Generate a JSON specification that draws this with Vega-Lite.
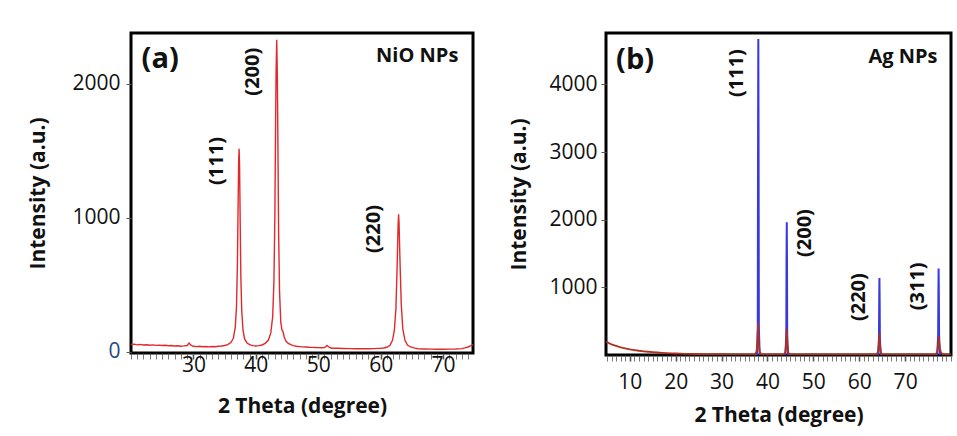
{
  "$schema": "https://vega.github.io/schema/vega-lite/v6.json",
  "autosize": {"type": "none"},
  "padding": {"left": 131, "top": 33, "right": 826, "bottom": 403},
  "background": "white",
  "config": {
    "font": "Open Sans",
    "view": {"stroke": "black", "strokeWidth": 3},
    "axis": {"grid": false, "domain": false, "ticks": true, "labelFont": "Open Sans", "titleFont": "Open Sans", "labelColor": "#111", "titleColor": "#111", "labelFontSize": 21, "titleFontSize": 21, "titleFontWeight": "bold", "labelOverlap": false, "labelFlush": false, "tickColor": "#555"}
  },
  "bounds": "flush",
  "spacing": 133,
  "hconcat": [
    {
      "width": 342,
      "height": 320,
      "layer": [
        {
          "data": {"values": [
            {"t": 20.0, "i": 54}, {"t": 20.5, "i": 56}, {"t": 21.0, "i": 51}, {"t": 21.5, "i": 54}, {"t": 22.0, "i": 50}, {"t": 22.5, "i": 52}, {"t": 23.0, "i": 48}, {"t": 23.5, "i": 51}, {"t": 24.0, "i": 47}, {"t": 24.5, "i": 49}, {"t": 25.0, "i": 46}, {"t": 25.5, "i": 48}, {"t": 26.0, "i": 44}, {"t": 26.5, "i": 46}, {"t": 27.0, "i": 42}, {"t": 27.5, "i": 44}, {"t": 28.0, "i": 41}, {"t": 28.5, "i": 43}, {"t": 29.0, "i": 46}, {"t": 29.3, "i": 64}, {"t": 29.6, "i": 48}, {"t": 30.0, "i": 40}, {"t": 30.5, "i": 38}, {"t": 31.0, "i": 40}, {"t": 31.5, "i": 37}, {"t": 32.0, "i": 39}, {"t": 32.5, "i": 36}, {"t": 33.0, "i": 38}, {"t": 33.5, "i": 37}, {"t": 34.0, "i": 40}, {"t": 34.5, "i": 42}, {"t": 35.0, "i": 46}, {"t": 35.5, "i": 52}, {"t": 36.0, "i": 68}, {"t": 36.4, "i": 100}, {"t": 36.7, "i": 180}, {"t": 36.9, "i": 330}, {"t": 37.05, "i": 650}, {"t": 37.15, "i": 1050}, {"t": 37.25, "i": 1420}, {"t": 37.32, "i": 1515}, {"t": 37.4, "i": 1380}, {"t": 37.5, "i": 950}, {"t": 37.6, "i": 560}, {"t": 37.75, "i": 300}, {"t": 37.95, "i": 160}, {"t": 38.2, "i": 95}, {"t": 38.6, "i": 65}, {"t": 39.0, "i": 52}, {"t": 39.5, "i": 45}, {"t": 40.0, "i": 42}, {"t": 40.5, "i": 45}, {"t": 41.0, "i": 50}, {"t": 41.5, "i": 62}, {"t": 42.0, "i": 85}, {"t": 42.4, "i": 140}, {"t": 42.7, "i": 260}, {"t": 42.9, "i": 520}, {"t": 43.05, "i": 1000}, {"t": 43.15, "i": 1600}, {"t": 43.25, "i": 2100}, {"t": 43.35, "i": 2330}, {"t": 43.45, "i": 2050}, {"t": 43.55, "i": 1500}, {"t": 43.65, "i": 900}, {"t": 43.8, "i": 450}, {"t": 44.0, "i": 220}, {"t": 44.2, "i": 160}, {"t": 44.35, "i": 150}, {"t": 44.55, "i": 110}, {"t": 44.8, "i": 80}, {"t": 45.2, "i": 62}, {"t": 45.6, "i": 52}, {"t": 46.0, "i": 45}, {"t": 46.5, "i": 40}, {"t": 47.0, "i": 38}, {"t": 47.5, "i": 36}, {"t": 48.0, "i": 35}, {"t": 48.5, "i": 33}, {"t": 49.0, "i": 32}, {"t": 49.5, "i": 31}, {"t": 50.0, "i": 30}, {"t": 50.5, "i": 29}, {"t": 51.0, "i": 30}, {"t": 51.4, "i": 47}, {"t": 51.7, "i": 35}, {"t": 52.0, "i": 27}, {"t": 52.5, "i": 26}, {"t": 53.0, "i": 25}, {"t": 54.0, "i": 24}, {"t": 55.0, "i": 23}, {"t": 56.0, "i": 22}, {"t": 57.0, "i": 22}, {"t": 58.0, "i": 22}, {"t": 59.0, "i": 23}, {"t": 60.0, "i": 25}, {"t": 60.5, "i": 27}, {"t": 61.0, "i": 33}, {"t": 61.5, "i": 48}, {"t": 61.9, "i": 85}, {"t": 62.2, "i": 160}, {"t": 62.45, "i": 320}, {"t": 62.65, "i": 650}, {"t": 62.8, "i": 950}, {"t": 62.88, "i": 1026}, {"t": 62.95, "i": 960}, {"t": 63.1, "i": 680}, {"t": 63.3, "i": 360}, {"t": 63.55, "i": 170}, {"t": 63.9, "i": 85}, {"t": 64.3, "i": 50}, {"t": 64.8, "i": 35}, {"t": 65.5, "i": 26}, {"t": 66.0, "i": 22}, {"t": 67.0, "i": 20}, {"t": 68.0, "i": 19}, {"t": 69.0, "i": 18}, {"t": 70.0, "i": 18}, {"t": 71.0, "i": 19}, {"t": 72.0, "i": 20}, {"t": 73.0, "i": 23}, {"t": 73.5, "i": 28}, {"t": 74.0, "i": 35}, {"t": 74.5, "i": 45}, {"t": 74.8, "i": 52}
          ]},
          "mark": {"type": "line", "color": "#e3282b", "strokeWidth": 1.4, "clip": true},
          "encoding": {
            "x": {"field": "t", "type": "quantitative", "scale": {"domain": [20, 74.8], "nice": false, "zero": false},
              "axis": {"title": "2 Theta (degree)", "tickCount": 110, "format": "d",
                "labelExpr": "datum.value % 10 === 0 && datum.value > 20 ? datum.label : ''",
                "tickSize": 6,
                "tickWidth": {"condition": {"test": "datum.value % 10 === 0 && datum.value > 20", "value": 1.6}, "value": 0.8},
                "labelPadding": -5, "titlePadding": 20}},
            "y": {"field": "i", "type": "quantitative", "scale": {"domain": [-10, 2380], "nice": false},
              "axis": {"title": "Intensity (a.u.)", "values": [0, 1000, 2000], "format": "d", "tickSize": 5, "labelPadding": 6, "titlePadding": 23,
                "labelColor": {"condition": {"test": "datum.value === 0", "value": "#27457e"}, "value": "#111"}}}
          }
        },
        {
          "data": {"values": [
            {"t": 33.8, "i": 1424, "lab": "(111)"},
            {"t": 39.5, "i": 2091, "lab": "(200)"},
            {"t": 58.9, "i": 916, "lab": "(220)"}
          ]},
          "mark": {"type": "text", "angle": 270, "fontSize": 20, "fontWeight": "bold", "align": "center", "baseline": "middle", "color": "#111"},
          "encoding": {"x": {"field": "t", "type": "quantitative"}, "y": {"field": "i", "type": "quantitative"}, "text": {"field": "lab"}}
        },
        {
          "data": {"values": [{"t": 21.7, "i": 2185, "lab": "(a)"}]},
          "mark": {"type": "text", "fontSize": 29, "fontWeight": "bold", "align": "left", "baseline": "middle", "color": "#111"},
          "encoding": {"x": {"field": "t", "type": "quantitative"}, "y": {"field": "i", "type": "quantitative"}, "text": {"field": "lab"}}
        },
        {
          "data": {"values": [{"t": 72.45, "i": 2208, "lab": "NiO NPs"}]},
          "mark": {"type": "text", "fontSize": 20, "fontWeight": "bold", "align": "right", "baseline": "middle", "color": "#111"},
          "encoding": {"x": {"field": "t", "type": "quantitative"}, "y": {"field": "i", "type": "quantitative"}, "text": {"field": "lab"}}
        }
      ]
    },
    {
      "width": 345,
      "height": 322,
      "layer": [
        {
          "data": {"values": [
            {"t": 37.7, "i": 0, "pk": "111"}, {"t": 37.88, "i": 400, "pk": "111"}, {"t": 37.95, "i": 3400, "pk": "111"}, {"t": 38.0, "i": 4670, "pk": "111"}, {"t": 38.05, "i": 3400, "pk": "111"}, {"t": 38.12, "i": 400, "pk": "111"}, {"t": 38.3, "i": 0, "pk": "111"},
            {"t": 43.9, "i": 0, "pk": "200"}, {"t": 44.1, "i": 300, "pk": "200"}, {"t": 44.15, "i": 1400, "pk": "200"}, {"t": 44.2, "i": 1963, "pk": "200"}, {"t": 44.25, "i": 1400, "pk": "200"}, {"t": 44.3, "i": 300, "pk": "200"}, {"t": 44.5, "i": 0, "pk": "200"},
            {"t": 64.1, "i": 0, "pk": "220"}, {"t": 64.3, "i": 250, "pk": "220"}, {"t": 64.35, "i": 800, "pk": "220"}, {"t": 64.4, "i": 1138, "pk": "220"}, {"t": 64.45, "i": 800, "pk": "220"}, {"t": 64.5, "i": 250, "pk": "220"}, {"t": 64.7, "i": 0, "pk": "220"},
            {"t": 77.0, "i": 0, "pk": "311"}, {"t": 77.2, "i": 300, "pk": "311"}, {"t": 77.25, "i": 900, "pk": "311"}, {"t": 77.3, "i": 1277, "pk": "311"}, {"t": 77.35, "i": 900, "pk": "311"}, {"t": 77.4, "i": 300, "pk": "311"}, {"t": 77.6, "i": 0, "pk": "311"}
          ]},
          "mark": {"type": "line", "color": "#3838dc", "strokeWidth": 2, "clip": true},
          "encoding": {
            "x": {"field": "t", "type": "quantitative", "scale": {"domain": [4.8, 80], "nice": false, "zero": false},
              "axis": {"title": "2 Theta (degree)", "tickCount": 150, "format": "d",
                "labelExpr": "datum.value % 10 === 0 && datum.value < 80 ? datum.label : ''",
                "tickSize": 6,
                "tickWidth": {"condition": {"test": "datum.value % 10 === 0 && datum.value < 80", "value": 1.6}, "value": 0.8},
                "labelPadding": 10, "titlePadding": 12}},
            "y": {"field": "i", "type": "quantitative", "scale": {"domain": [0, 4760], "nice": false},
              "axis": {"title": "Intensity (a.u.)", "values": [1000, 2000, 3000, 4000], "format": "d", "tickSize": 5, "labelPadding": 4, "titlePadding": 19}},
            "detail": {"field": "pk"}
          }
        },
        {
          "data": {"values": [
            {"t": 4.8, "i": 195}, {"t": 5.2, "i": 185}, {"t": 5.6, "i": 170}, {"t": 6.0, "i": 158}, {"t": 6.5, "i": 146}, {"t": 7.0, "i": 135}, {"t": 7.5, "i": 124}, {"t": 8.0, "i": 114}, {"t": 8.5, "i": 105}, {"t": 9.0, "i": 97}, {"t": 10.0, "i": 84}, {"t": 11.0, "i": 73}, {"t": 12.0, "i": 63}, {"t": 13.0, "i": 55}, {"t": 14.0, "i": 48}, {"t": 15.0, "i": 42}, {"t": 16.0, "i": 37}, {"t": 17.0, "i": 32}, {"t": 18.0, "i": 28}, {"t": 19.0, "i": 25}, {"t": 20.0, "i": 22}, {"t": 21.0, "i": 20}, {"t": 22.0, "i": 18}, {"t": 23.0, "i": 16}, {"t": 24.0, "i": 15}, {"t": 25.0, "i": 14}, {"t": 26.0, "i": 13}, {"t": 28.0, "i": 12}, {"t": 30.0, "i": 11}, {"t": 32.0, "i": 10}, {"t": 34.0, "i": 10}, {"t": 36.0, "i": 9},
            {"t": 37.3, "i": 12}, {"t": 37.6, "i": 50}, {"t": 37.8, "i": 170}, {"t": 37.95, "i": 480}, {"t": 38.1, "i": 170}, {"t": 38.3, "i": 50}, {"t": 38.6, "i": 14}, {"t": 39.0, "i": 10}, {"t": 41.0, "i": 9},
            {"t": 43.6, "i": 11}, {"t": 43.9, "i": 50}, {"t": 44.05, "i": 160}, {"t": 44.15, "i": 380}, {"t": 44.3, "i": 150}, {"t": 44.5, "i": 40}, {"t": 44.8, "i": 12}, {"t": 46.0, "i": 9}, {"t": 50.0, "i": 8}, {"t": 55.0, "i": 8}, {"t": 60.0, "i": 8},
            {"t": 63.8, "i": 10}, {"t": 64.1, "i": 50}, {"t": 64.3, "i": 160}, {"t": 64.4, "i": 320}, {"t": 64.5, "i": 150}, {"t": 64.7, "i": 40}, {"t": 65.0, "i": 10}, {"t": 70.0, "i": 8},
            {"t": 76.7, "i": 10}, {"t": 77.0, "i": 50}, {"t": 77.2, "i": 160}, {"t": 77.3, "i": 280}, {"t": 77.45, "i": 160}, {"t": 77.6, "i": 90}, {"t": 77.8, "i": 40}, {"t": 78.2, "i": 10}, {"t": 80.0, "i": 9}
          ]},
          "mark": {"type": "line", "color": "#b0301f", "strokeWidth": 1.8, "clip": true},
          "encoding": {"x": {"field": "t", "type": "quantitative"}, "y": {"field": "i", "type": "quantitative"}}
        },
        {
          "data": {"values": [
            {"t": 33.4, "i": 4166, "lab": "(111)"},
            {"t": 48.2, "i": 1803, "lab": "(200)"},
            {"t": 60.0, "i": 856, "lab": "(220)"},
            {"t": 72.9, "i": 1015, "lab": "(311)"}
          ]},
          "mark": {"type": "text", "angle": 270, "fontSize": 20, "fontWeight": "bold", "align": "center", "baseline": "middle", "color": "#111"},
          "encoding": {"x": {"field": "t", "type": "quantitative"}, "y": {"field": "i", "type": "quantitative"}, "text": {"field": "lab"}}
        },
        {
          "data": {"values": [{"t": 7.0, "i": 4363, "lab": "(b)"}]},
          "mark": {"type": "text", "fontSize": 29, "fontWeight": "bold", "align": "left", "baseline": "middle", "color": "#111"},
          "encoding": {"x": {"field": "t", "type": "quantitative"}, "y": {"field": "i", "type": "quantitative"}, "text": {"field": "lab"}}
        },
        {
          "data": {"values": [{"t": 77.05, "i": 4412, "lab": "Ag NPs"}]},
          "mark": {"type": "text", "fontSize": 20, "fontWeight": "bold", "align": "right", "baseline": "middle", "color": "#111"},
          "encoding": {"x": {"field": "t", "type": "quantitative"}, "y": {"field": "i", "type": "quantitative"}, "text": {"field": "lab"}}
        }
      ]
    }
  ]
}
